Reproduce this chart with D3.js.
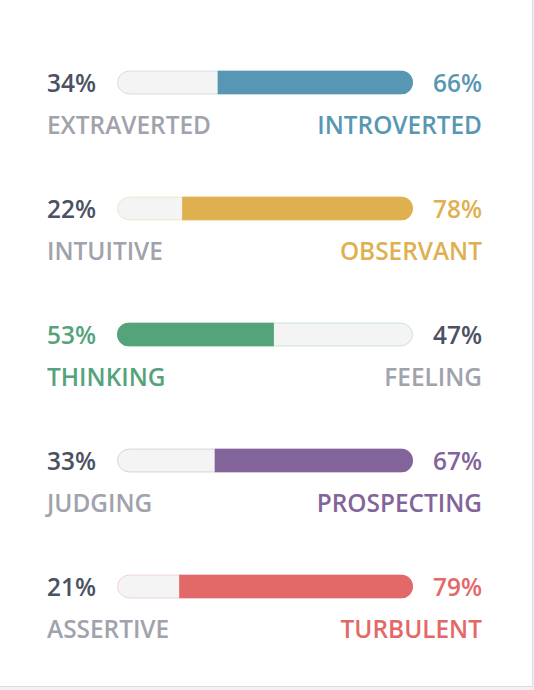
<!DOCTYPE html>
<html><head><meta charset="utf-8">
<script src="https://cdn.jsdelivr.net/npm/d3@7"></script>
<style>
html,body{margin:0;padding:0;background:#f2f2f4;}
svg{display:block;}
</style></head><body>
<svg id="c" width="534" height="690"></svg>
<script>
const leftLabels = ["EXTRAVERTED","INTUITIVE","THINKING","JUDGING","ASSERTIVE"];
const rightLabels = ["INTROVERTED","OBSERVANT","FEELING","PROSPECTING","TURBULENT"];
const leftValues = [34,22,53,33,21];
const rightValues = [66,78,47,67,79];
const colors = ["#5897b4","#dfb04f","#55a37a","#82649a","#e36868"];

const svg = d3.select("#c");
svg.append("rect").attr("x",-2).attr("y",-2).attr("width",534.5).attr("height",688.5)
  .attr("fill","#ffffff").attr("stroke","#dcdce0").attr("stroke-width",1);

const x = d3.scaleLinear().domain([0,100]).range([117,413]);
const y = d3.scalePoint().domain(d3.range(5)).range([82.5,586.5]);
const barH = 24, r = 12;
const dark = "#4b5163", gray = "#a0a2ac";
const font = "'Open Sans', sans-serif";
const fs = 24.4;

leftLabels.forEach((ll,i)=>{
  const cy = y(i);
  const leftDominant = leftValues[i] > rightValues[i];
  const c = colors[i];
  const g = svg.append("g");
  g.append("rect").attr("x",x(0)+0.5).attr("y",cy-barH/2+0.5)
    .attr("width",x(100)-x(0)-1).attr("height",barH-1).attr("rx",r).attr("ry",r)
    .attr("fill","#f4f4f4").attr("stroke",c).attr("stroke-opacity",0.25).attr("stroke-width",1);
  const clipId = "clip"+i;
  svg.append("clipPath").attr("id",clipId).append("rect")
    .attr("x",x(0)).attr("y",cy-barH/2).attr("width",x(100)-x(0)).attr("height",barH).attr("rx",r).attr("ry",r);
  let x0, x1;
  if(leftDominant){ x0 = x(0); x1 = x(leftValues[i]); }
  else { x0 = x(leftValues[i]); x1 = x(100); }
  g.append("rect").attr("clip-path",`url(#${clipId})`)
    .attr("x",x0).attr("y",cy-barH/2).attr("width",x1-x0).attr("height",barH).attr("fill",c);
  g.append("text").attr("x",47).attr("y",cy+9.5).attr("text-anchor","start")
    .attr("font-family",font).attr("font-weight",600).attr("font-size",fs)
    .attr("fill",leftDominant?c:dark).text(leftValues[i]+"%");
  g.append("text").attr("x",482).attr("y",cy+9.5).attr("text-anchor","end")
    .attr("font-family",font).attr("font-weight",600).attr("font-size",fs)
    .attr("fill",leftDominant?dark:c).text(rightValues[i]+"%");
  g.append("text").attr("x",47).attr("y",cy+51.5).attr("text-anchor","start")
    .attr("font-family",font).attr("font-weight",600).attr("font-size",fs)
    .attr("fill",leftDominant?c:gray).text(ll);
  g.append("text").attr("x",482).attr("y",cy+51.5).attr("text-anchor","end")
    .attr("font-family",font).attr("font-weight",600).attr("font-size",fs)
    .attr("fill",leftDominant?gray:c).text(rightLabels[i]);
});
</script></body></html>
